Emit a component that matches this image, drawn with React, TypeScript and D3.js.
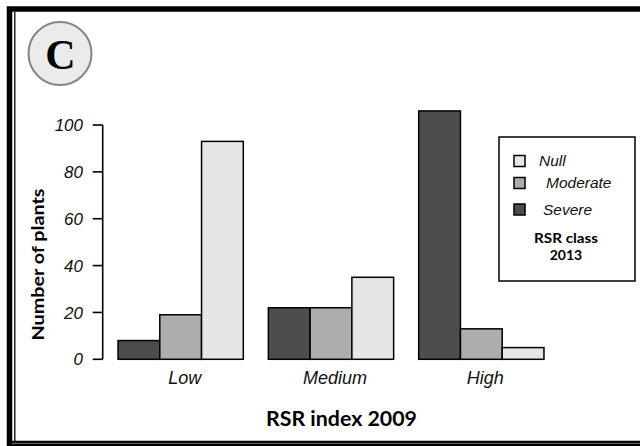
import React from "react";
import * as d3 from "d3";

const categories = ["Low", "Medium", "High"];
const seriesNames = ["Severe", "Moderate", "Null"];
const severe = [8, 22, 106];
const moderate = [19, 22, 13];
const nullVals = [93, 35, 5];
const yTicks = [0, 20, 40, 60, 80, 100];
const legendOrder = ["Null", "Moderate", "Severe"];

const colors: Record<string, string> = {
  Severe: "#4d4d4d",
  Moderate: "#adadad",
  Null: "#e6e6e6",
};

export default function App() {
  const W = 640;
  const H = 446;
  const x0 = d3
    .scaleBand<string>()
    .domain(categories)
    .range([103, 559])
    .paddingInner(0.1667)
    .paddingOuter(0.1);
  const x1 = d3
    .scaleBand<string>()
    .domain(seriesNames)
    .range([0, x0.bandwidth()]);
  const y = d3.scaleLinear().domain([0, 100]).range([359.3, 125]);

  const seriesData: Record<string, number[]> = {
    Severe: severe,
    Moderate: moderate,
    Null: nullVals,
  };

  const tickFont = "'Liberation Sans', Arial, sans-serif";
  const titleFont = "Lato, 'Open Sans', sans-serif";

  return (
    <div style={{ position: "absolute", left: 0, top: 0 }}>
      <svg width={W} height={H} style={{ display: "block" }}>
        <rect x={0} y={0} width={W} height={H} fill="#fff" />
        {/* frame */}
        <rect x={9.5} y={9} width={700} height={434.5} fill="none" stroke="#000" strokeWidth={5.5} />
        <line x1={14.8} x2={14.8} y1={12} y2={442} stroke="#000" strokeWidth={1.3} />
        <line x1={12} x2={700} y1={443.3} y2={443.3} stroke="#777" strokeWidth={1} />

        {/* C badge */}
        <circle cx={60} cy={53.5} r={31.5} fill="#ebebeb" stroke="#858585" strokeWidth={2} />
        <text
          x={60.5}
          y={68.5}
          textAnchor="middle"
          fontFamily="'Liberation Serif', 'Times New Roman', serif"
          fontWeight="bold"
          fontSize={42}
          fill="#000"
        >
          C
        </text>

        {/* y axis */}
        <line x1={102.7} x2={102.7} y1={y(100)} y2={y(0)} stroke="#000" strokeWidth={1.6} />
        {yTicks.map((t) => (
          <g key={t}>
            <line x1={92.7} x2={102.7} y1={y(t)} y2={y(t)} stroke="#000" strokeWidth={1.6} />
            <text
              x={83}
              y={y(t)}
              dy="0.36em"
              textAnchor="end"
              fontFamily={tickFont}
              fontStyle="italic"
              fontSize={17}
              fill="#111"
            >
              {t}
            </text>
          </g>
        ))}
        <text
          transform={`translate(44, 264.5) rotate(-90)`}
          textAnchor="middle"
          fontFamily={titleFont}
          fontWeight="bold"
          fontSize={17}
          textLength={152}
          lengthAdjust="spacingAndGlyphs"
          fill="#000"
        >
          Number of plants
        </text>

        {/* bars */}
        {categories.map((c, i) => (
          <g key={c} transform={`translate(${x0(c)},0)`}>
            {seriesNames.map((s) => {
              const v = seriesData[s][i];
              return (
                <rect
                  key={s}
                  x={x1(s)}
                  y={y(v)}
                  width={x1.bandwidth()}
                  height={y(0) - y(v)}
                  fill={colors[s]}
                  stroke="#000"
                  strokeWidth={1.5}
                />
              );
            })}
          </g>
        ))}

        {/* x labels */}
        {categories.map((c) => (
          <text
            key={c}
            x={(x0(c) ?? 0) + x0.bandwidth() / 2 + 4}
            y={383.5}
            textAnchor="middle"
            fontFamily={tickFont}
            fontStyle="italic"
            fontSize={18}
            fill="#111"
          >
            {c}
          </text>
        ))}
        <text
          x={341.5}
          y={425.5}
          textAnchor="middle"
          fontFamily={titleFont}
          fontWeight="bold"
          fontSize={20}
          textLength={151}
          lengthAdjust="spacingAndGlyphs"
          fill="#000"
        >
          RSR index 2009
        </text>

        {/* legend */}
        <rect x={499} y={137} width={136} height={144} fill="#fff" stroke="#000" strokeWidth={1.5} />
        {legendOrder.map((s, i) => {
          const cy = [161, 183, 209.5][i];
          const tx = [539, 546, 543][i];
          return (
            <g key={s}>
              <rect x={514} y={cy - 5.5} width={11} height={11} fill={colors[s]} stroke="#000" strokeWidth={1.5} />
              <text
                x={tx}
                y={cy + 5}
                fontFamily={tickFont}
                fontStyle="italic"
                fontSize={15.5}
                fill="#111"
              >
                {s}
              </text>
            </g>
          );
        })}
        <text x={566} y={243} textAnchor="middle" fontFamily={titleFont} fontWeight="bold" fontSize={14} textLength={64} lengthAdjust="spacingAndGlyphs" fill="#000">
          RSR class
        </text>
        <text x={566} y={260} textAnchor="middle" fontFamily={titleFont} fontWeight="bold" fontSize={14} fill="#000">
          2013
        </text>
      </svg>
    </div>
  );
}
